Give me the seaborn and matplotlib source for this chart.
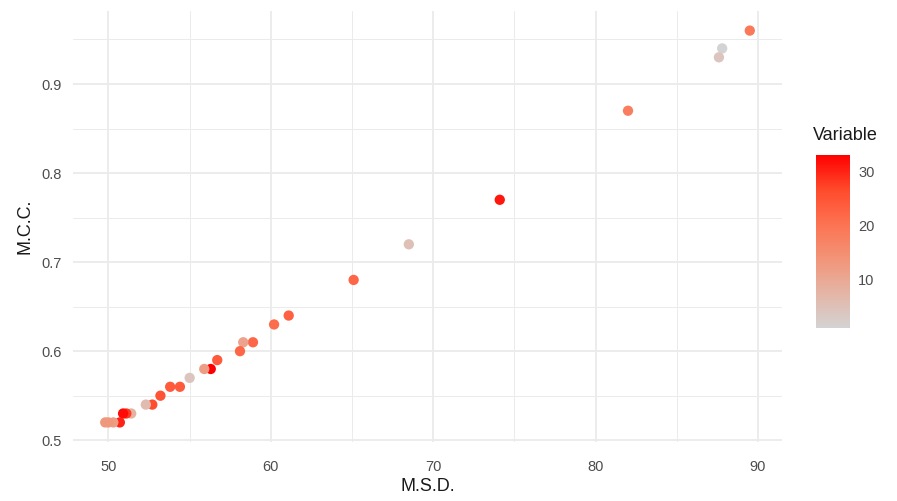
import numpy as np
import pandas as pd
import matplotlib
matplotlib.use('Agg')
import matplotlib.pyplot as plt
import seaborn as sns
from matplotlib.colors import LinearSegmentedColormap, Normalize
from matplotlib.ticker import MultipleLocator

# --- data ---
msd = [89.5, 87.8, 87.6, 82.0, 74.1, 68.5, 65.1, 61.1, 60.2, 58.9, 58.3, 58.1,
       56.7, 56.3, 55.9, 55.0, 54.4, 53.8, 53.2, 52.7, 52.3, 51.4, 51.1, 50.9,
       50.7, 50.3, 50.0, 49.8]
mcc = [0.96, 0.94, 0.93, 0.87, 0.77, 0.72, 0.68, 0.64, 0.63, 0.61, 0.61, 0.60,
       0.59, 0.58, 0.58, 0.57, 0.56, 0.56, 0.55, 0.54, 0.54, 0.53, 0.53, 0.53,
       0.52, 0.52, 0.52, 0.52]
variable = [19, 1, 4, 18, 31, 5, 22, 23, 21, 22, 11, 22,
            24, 33, 12, 4, 24, 24, 25, 26, 6, 8, 28, 32,
            30, 12, 13, 13]

df = pd.DataFrame({'M.S.D.': msd, 'M.C.C.': mcc, 'Variable': variable})

# grey -> red gradient (approximate ggplot lab interpolation)
cmap = LinearSegmentedColormap.from_list(
    'greyred', ['#D3D3D3', '#E4B5A6', '#F29478', '#FC7352', '#FF4A2C', '#FF0000'])
norm = Normalize(vmin=1, vmax=33)

sns.set_style('white')
plt.rcParams['font.family'] = ['Liberation Sans', 'DejaVu Sans']

fig = plt.figure(figsize=(8.97, 5.01), dpi=100)
ax = fig.add_axes([73 / 897, 59 / 501, 709 / 897, 431 / 501])

sns.scatterplot(data=df, x='M.S.D.', y='M.C.C.', hue='Variable', palette=cmap,
                hue_norm=norm, legend=False, s=55, linewidth=0, ax=ax, zorder=3)

ax.margins(0.05)
ax.xaxis.set_major_locator(MultipleLocator(10))
ax.xaxis.set_minor_locator(MultipleLocator(5))
ax.yaxis.set_major_locator(MultipleLocator(0.1))
ax.yaxis.set_minor_locator(MultipleLocator(0.05))
ax.grid(which='major', color='#EBEBEB', linewidth=1.3)
ax.grid(which='minor', color='#EBEBEB', linewidth=0.7)
ax.set_axisbelow(True)
for sp in ax.spines.values():
    sp.set_visible(False)
ax.tick_params(which='both', length=0, labelsize=10.5, labelcolor='#4D4D4D')
ax.tick_params(axis='x', pad=13)
ax.tick_params(axis='y', pad=8)
ax.set_xlabel('M.S.D.', fontsize=13, color='#1A1A1A', labelpad=3)
ax.set_ylabel('M.C.C.', fontsize=13, color='#1A1A1A', labelpad=6)

# colourbar legend
cax = fig.add_axes([816 / 897, 173 / 501, 34 / 897, 173 / 501])
sm = plt.cm.ScalarMappable(norm=norm, cmap=cmap)
cb = fig.colorbar(sm, cax=cax, ticks=[10, 20, 30])
cb.outline.set_visible(False)
cax.tick_params(left=True, right=True, labelleft=False, labelright=True,
                direction='in', color='white', length=6, width=1,
                labelsize=10.5, labelcolor='#4D4D4D', pad=6)
fig.text(813 / 897, (501 - 135) / 501, 'Variable', fontsize=13, color='#1A1A1A',
         va='center', ha='left')

plt.savefig('out.png', dpi=100)
